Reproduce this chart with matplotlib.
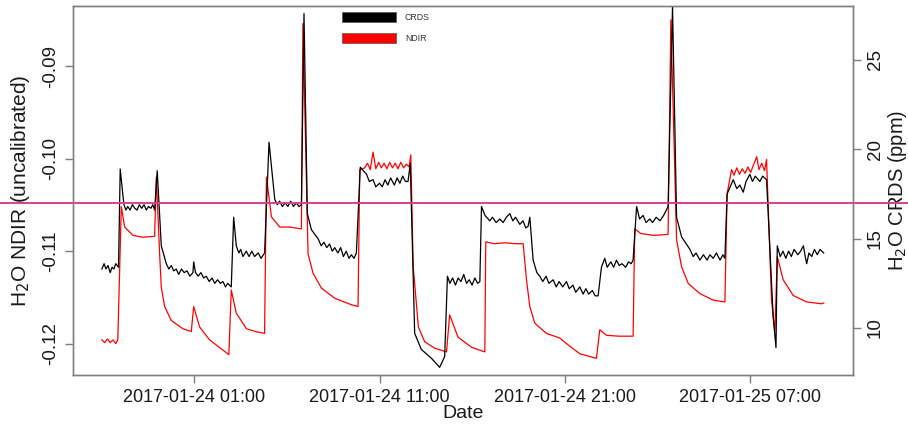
import numpy as np
import pandas as pd
import matplotlib
matplotlib.use("Agg")
import matplotlib.pyplot as plt
import matplotlib.dates as mdates
from matplotlib.patches import Patch
from matplotlib.transforms import blended_transform_factory

plt.rcParams["font.family"] = ["Liberation Sans", "DejaVu Sans"]
plt.rcParams["axes.unicode_minus"] = False

START = pd.Timestamp("2017-01-23 20:00")

# CRDS water vapour: hours since START and ppm
crds_h = [0.00, 0.12, 0.22, 0.33, 0.45, 0.55, 0.65, 0.75, 0.90,
          0.99, 1.19, 1.30, 1.40, 1.52, 1.65, 1.78, 1.90, 2.02, 2.15, 2.28, 2.40, 2.52, 2.65, 2.75, 2.85,
          2.99, 3.21,
          3.48, 3.62, 3.75, 3.88, 4.02, 4.15, 4.30, 4.45, 4.60, 4.75, 4.92, 4.96, 5.06,
          5.20, 5.35, 5.50, 5.64, 5.80, 5.95, 6.10, 6.25, 6.40, 6.54, 6.68, 6.80, 6.99,
          7.12, 7.26, 7.40, 7.50, 7.62, 7.80, 7.95, 8.10, 8.25, 8.45, 8.60, 8.79,
          9.03, 9.34, 9.48, 9.60, 9.75, 9.90, 10.05, 10.20, 10.35, 10.50, 10.65, 10.78,
          10.92, 11.10, 11.32,
          11.68, 11.85, 12.00, 12.15, 12.30, 12.45, 12.58, 12.75, 12.90, 13.05, 13.20, 13.35, 13.48, 13.62, 13.75,
          13.96, 14.30, 14.45, 14.65, 14.80, 15.00, 15.15, 15.30, 15.45, 15.60, 15.80, 15.95, 16.10, 16.25, 16.40, 16.54,
          16.66, 16.90, 17.26, 17.81, 18.25, 18.52,
          18.67, 18.80, 18.95, 19.10, 19.25, 19.40, 19.55, 19.70, 19.85, 20.00, 20.15, 20.30, 20.42,
          20.51, 20.70, 20.96, 21.10, 21.30, 21.50, 21.68, 21.85, 22.04, 22.20, 22.35, 22.58, 22.75, 22.90, 23.03, 23.12,
          23.30, 23.50, 23.66, 23.82, 24.00, 24.15, 24.38, 24.55, 24.70, 24.90, 25.10, 25.25, 25.45, 25.60, 25.82,
          26.00, 26.15, 26.30, 26.50, 26.65, 26.81,
          26.99, 27.17, 27.30, 27.50, 27.65, 27.80, 27.95, 28.10, 28.30, 28.45, 28.60, 28.70,
          28.89, 29.05, 29.24, 29.40, 29.60, 29.75, 29.95, 30.15, 30.35, 30.59,
          30.83, 31.05, 31.32,
          31.77, 31.95, 32.10, 32.31, 32.50, 32.70, 32.85, 33.03, 33.20, 33.40, 33.55, 33.66,
          33.78, 34.11, 34.30, 34.47, 34.65, 34.80, 35.01, 35.15, 35.30, 35.55, 35.70, 35.91,
          36.27, 36.42,
          36.49, 36.65, 36.80, 36.95, 37.10, 37.25, 37.40, 37.60, 37.75, 37.90, 38.00, 38.08, 38.20, 38.35,
          38.50, 38.65, 38.80, 39.00]
crds_ppm = [13.3, 13.6, 13.3, 13.5, 13.1, 13.4, 13.3, 13.6, 13.4,
            18.9, 16.9, 16.6, 16.8, 16.6, 16.9, 16.7, 16.6, 16.9, 16.7, 16.9, 16.6, 16.8, 16.7, 16.9, 16.6,
            18.8, 14.6,
            13.6, 13.3, 13.5, 13.2, 13.3, 13.0, 13.3, 13.1, 13.2, 12.9, 13.1, 13.7, 13.1,
            12.9, 13.1, 12.8, 12.9, 12.6, 12.8, 12.5, 12.7, 12.5, 12.6, 12.3, 12.5, 12.3,
            16.2, 14.6, 14.2, 14.4, 14.0, 14.3, 14.0, 14.3, 14.0, 14.2, 13.9, 14.2,
            20.4, 17.2, 16.9, 17.1, 16.8, 17.0, 16.8, 17.1, 16.8, 17.0, 16.8, 16.9,
            27.6, 16.4, 15.5,
            15.0, 14.6, 14.8, 14.5, 14.7, 14.3, 14.5, 14.2, 14.5, 14.0, 14.3, 13.9, 14.1, 13.9, 14.2,
            19.0, 18.6, 18.2, 18.3, 17.9, 18.1, 17.9, 18.3, 18.0, 18.4, 18.0, 18.4, 18.1, 18.5, 18.2, 18.2,
            19.2, 9.7, 8.8, 8.3, 7.8, 8.4,
            12.9, 12.5, 12.8, 12.4, 12.8, 12.6, 13.0, 12.5, 12.7, 12.4, 12.8, 12.5, 12.6,
            16.8, 16.3, 16.0, 16.2, 15.9, 16.1, 15.9, 16.2, 16.4, 16.0, 16.2, 15.8, 16.0, 15.6, 15.7, 16.2,
            13.8, 13.1, 12.9, 12.6, 12.9, 12.5, 12.7, 12.3, 12.6, 12.3, 12.6, 12.2, 12.4, 12.0, 12.3,
            11.9, 12.2, 11.9, 12.1, 11.8, 11.8,
            13.4, 13.9, 13.4, 13.7, 13.4, 13.8, 13.5, 13.6, 13.4, 13.7, 13.6, 13.8,
            16.8, 16.1, 16.3, 15.9, 16.1, 15.9, 16.2, 16.0, 16.3, 16.8,
            28.0, 16.2, 15.1,
            14.4, 14.0, 14.2, 13.8, 14.1, 13.8, 14.1, 13.9, 14.2, 13.8, 14.1, 13.9,
            17.5, 18.3, 17.8, 18.0, 17.6, 18.2, 18.6, 18.2, 18.5, 18.2, 18.5, 18.3,
            10.6, 8.9,
            14.6, 14.0, 14.3, 13.9, 14.3, 14.0, 14.4, 14.1, 14.3, 14.6, 14.0, 13.6, 14.2, 14.0,
            14.4, 14.1, 14.4, 14.2]

# NDIR raw signal: hours since START and uncalibrated value
ndir_h = [0.00, 0.15, 0.30, 0.45, 0.60, 0.75, 0.86,
          1.05, 1.23, 1.68, 2.20, 2.85, 2.94, 3.12, 3.21, 3.39, 3.75, 4.38, 4.83, 4.96, 5.28, 5.82, 6.54, 6.86,
          6.99, 7.26, 7.81, 8.30, 8.79, 8.89, 9.16, 9.61, 10.15, 10.78, 10.86, 11.14, 11.41, 11.86, 12.58,
          13.48, 13.84, 13.93,
          14.20, 14.35, 14.50, 14.65, 14.80, 14.95, 15.10, 15.25, 15.40, 15.55, 15.70, 15.85, 16.00, 16.15,
          16.30, 16.45, 16.60, 16.69,
          16.82, 17.10, 17.44, 17.98, 18.62, 18.79, 19.24, 19.97, 20.69, 20.74, 21.20, 21.80, 22.30, 22.76,
          22.94, 23.12, 23.39,
          24.02, 24.74, 25.10, 25.82, 26.72, 26.90, 27.26, 27.90, 28.70, 28.79, 29.12, 29.80, 30.59, 30.74,
          31.05, 31.32, 31.68, 32.31, 33.03, 33.66, 33.78,
          34.02, 34.15, 34.30, 34.45, 34.60, 34.75, 34.90, 35.05, 35.20, 35.38, 35.50, 35.65, 35.80, 35.91,
          36.18, 36.36, 36.49, 36.81, 37.35, 38.08, 38.89, 39.00]
ndir_val = [-0.1196, -0.1199, -0.1195, -0.1199, -0.1196, -0.1200, -0.1196,
            -0.1052, -0.1074, -0.1083, -0.1085, -0.1084, -0.1020, -0.1103, -0.1139, -0.1160, -0.1175,
            -0.1184, -0.1187, -0.1160, -0.1182, -0.1196, -0.1207, -0.1212,
            -0.1142, -0.1167, -0.1184, -0.1187, -0.1189, -0.1020, -0.1063, -0.1074, -0.1074, -0.1076,
            -0.0854, -0.1103, -0.1124, -0.1140, -0.1151,
            -0.1158, -0.1160, -0.1012,
            -0.1010, -0.1005, -0.1012, -0.0993, -0.1011, -0.1004, -0.1010, -0.1005, -0.1011, -0.1004,
            -0.1010, -0.1005, -0.1011, -0.1004,
            -0.1010, -0.1006, -0.1009, -0.0996,
            -0.1117, -0.1182, -0.1198, -0.1205, -0.1209, -0.1169, -0.1193, -0.1204, -0.1209, -0.1090,
            -0.1092, -0.1091, -0.1092, -0.1092,
            -0.1131, -0.1160, -0.1178,
            -0.1189, -0.1194, -0.1200, -0.1211, -0.1216, -0.1185, -0.1191, -0.1192, -0.1192, -0.1076,
            -0.1081, -0.1083, -0.1082, -0.0850,
            -0.1088, -0.1117, -0.1135, -0.1146, -0.1153, -0.1155, -0.1038,
            -0.1012, -0.1018, -0.1010, -0.1017, -0.1011, -0.1016, -0.1009, -0.1015, -0.1007, -0.0998,
            -0.1012, -0.1005, -0.1013, -0.1001,
            -0.1153, -0.1187, -0.1106, -0.1131, -0.1148, -0.1155, -0.1157, -0.1156]

ndir_ticks = [-0.12, -0.11, -0.10, -0.09]
crds_ticks = [10, 15, 20, 25]
date_ticks = ["2017-01-24 01:00", "2017-01-24 11:00", "2017-01-24 21:00", "2017-01-25 07:00"]
threshold_ppm = 17

GREY = "#7f7f7f"


def to_time(hours):
    return START + pd.to_timedelta(np.asarray(hours), unit="h")


fig = plt.figure(figsize=(9.08, 4.25), dpi=100)
ax = fig.add_axes([0.0804, 0.1176, 0.8586, 0.8683])
ax2 = ax.twinx()

ax.plot(to_time(ndir_h), ndir_val, color="red", lw=0.9)
ax2.plot(to_time(crds_h), crds_ppm, color="black", lw=0.9)
ax.set_zorder(ax2.get_zorder() - 1)
ax2.patch.set_visible(False)

# threshold line runs across the whole figure width
tr = blended_transform_factory(fig.transFigure, ax2.transData)
ax2.plot([0, 1], [threshold_ppm, threshold_ppm], color="#d9408e", lw=1.4,
         transform=tr, clip_on=False)

span = crds_h[-1] - crds_h[0]
ax.set_xlim(to_time(crds_h[0] - 0.04 * span), to_time(crds_h[-1] + 0.04 * span))
ax.set_ylim(-0.1234, -0.0835)
ax2.set_ylim(7.37, 28.02)

ax.set_xticks(pd.to_datetime(date_ticks))
ax.xaxis.set_major_formatter(mdates.DateFormatter("%Y-%m-%d %H:%M"))
ax.set_yticks(ndir_ticks)
ax.set_yticklabels([f"{v:.2f}" for v in ndir_ticks], rotation=90, va="center")
ax2.set_yticks(crds_ticks)
ax2.set_yticklabels([str(v) for v in crds_ticks], rotation=90, va="center")

for a in (ax, ax2):
    a.tick_params(length=6, width=1, color=GREY, labelsize=13.5, labelcolor="#1a1a1a", pad=4)
    for s in a.spines.values():
        s.set_color(GREY)
        s.set_linewidth(1)
ax.tick_params(axis="x", labelsize=13)

ax.set_xlabel("Date", fontsize=14, labelpad=-1, color="#1a1a1a")
ax.set_ylabel("H$_2$O NDIR (uncalibrated)", fontsize=15, labelpad=7, color="#1a1a1a")
ax2.set_ylabel("H$_2$O CRDS (ppm)", fontsize=14.5, rotation=90, labelpad=2, color="#1a1a1a")

handles = [Patch(facecolor="black", edgecolor="#555555", lw=0.5, label="CRDS"),
           Patch(facecolor="red", edgecolor="#555555", lw=0.5, label="NDIR")]
ax2.legend(handles=handles, loc="upper left", bbox_to_anchor=(0.345, 0.984),
           frameon=False, fontsize=6.3, handlelength=6.2, handleheight=1.4,
           labelspacing=1.25, handletextpad=1.0, borderpad=0, borderaxespad=0,
           labelcolor="#333333")

fig.savefig("out.png", dpi=100)
